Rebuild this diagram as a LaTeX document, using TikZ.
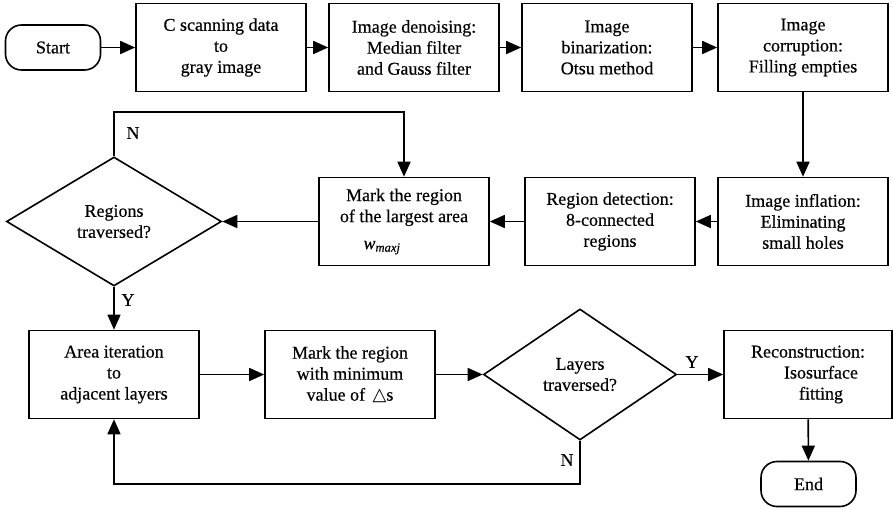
\documentclass[tikz,border=0pt]{standalone}
\usepackage{fontspec}
\setmainfont{Liberation Serif}[FakeBold=0.4]
\newfontfamily\trifont{DejaVu Sans}
\usetikzlibrary{shapes.geometric,arrows.meta}

\tikzset{
	proc/.style={draw, line width=1.6pt, minimum width=170pt, minimum height=88pt, align=center, inner sep=2pt},
	term/.style={draw, line width=1.6pt, rounded corners=16pt, minimum width=95pt, minimum height=45pt, inner sep=2pt},
	decision/.style={draw, diamond, line width=1.6pt, inner sep=0pt, align=center},
	flow/.style={line width=1.6pt, -{Triangle[length=15pt,width=13pt]}},
	yesno/.style={inner sep=1pt}
}

\begin{document}
\begin{tikzpicture}[x=1pt, y=-1pt, font=\fontsize{18}{21}\selectfont]
		\useasboundingbox (0,0) rectangle (893,510);
		
		% Top row
		\node[term] (start) at (53,47.5) {Start};
		\node[proc] (scan) at (221,47.5) {C scanning data\\to\\gray image};
		\node[proc] (denoise) at (414,47.5) {Image denoising:\\Median filter\\and Gauss filter};
		\node[proc] (binar) at (607,47.5) {Image\\binarization:\\Otsu method};
		\node[proc] (corrupt) at (803,47.5) {Image\\corruption:\\Filling empties};
		
		% Middle row
		\node[proc] (inflate) at (803,221.5) {Image inflation:\\Eliminating\\small holes};
		\node[proc] (detect) at (610,221.5) {Region detection:\\8-connected\\regions};
		\node[proc] (largest) at (404,221.5) {Mark the region\\of the largest area\\[6pt]\textit{w}\textsubscript{\textit{maxj}}\hspace*{44pt}};
		\node[decision, minimum width=215pt, minimum height=129pt] (regdec) at (114,221.5) {Regions\\traversed?};
		
		% Bottom row
		\node[proc] (iterate) at (114,374.5) {Area iteration\\to\\adjacent layers};
		\node[proc] (minreg) at (350,374.5) {Mark the region\\with minimum\\value of \,{\trifont △}s};
		\node[decision, minimum width=193pt, minimum height=131pt] (laydec) at (580,374.5) {Layers\\traversed?};
		\node[proc, minimum width=168pt] (recon) at (808,374.5) {Reconstruction:\\\hspace*{26pt}Isosurface\\\hspace*{26pt}fitting};
		\node[term] (stop) at (808.5,484) {End};
		
		% Connectors
		\draw[flow] (start) -- (scan);
		\draw[flow] (scan) -- (denoise);
		\draw[flow] (denoise) -- (binar);
		\draw[flow] (binar) -- (corrupt);
		\draw[flow] (corrupt) -- (inflate);
		\draw[flow] (inflate) -- (detect);
		\draw[flow] (detect) -- (largest);
		\draw[flow] (largest) -- (regdec);
		\draw[flow] (regdec.north) -- ++(0,-44) -| (largest.north);
		\draw[flow] (regdec.south) -- (iterate.north);
		\draw[flow] (iterate) -- (minreg);
		\draw[flow] (minreg) -- (laydec);
		\draw[flow] (laydec) -- (recon);
		\draw[flow] (recon) -- (stop);
		\draw[flow] (laydec.south) -- ++(0,43) -| (iterate.south);
		
		% Branch labels
		\node[yesno] (n1) at (133,133) {N};
		\node[yesno] (y1) at (128,300) {Y};
		\node[yesno] (y2) at (692,362) {Y};
		\node[yesno] (n2) at (567,460) {N};
	\end{tikzpicture}
\end{document}
